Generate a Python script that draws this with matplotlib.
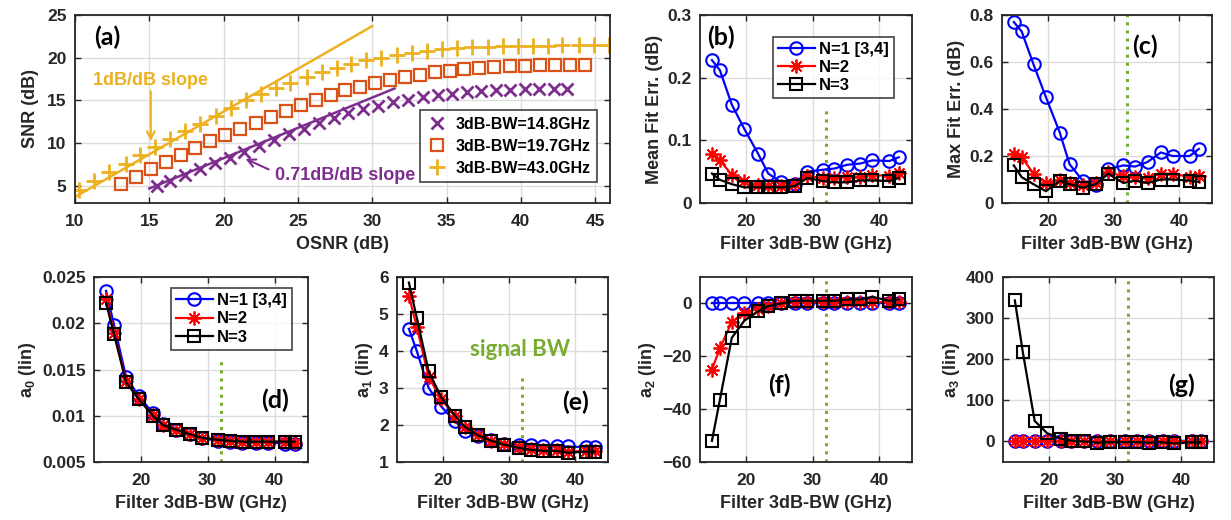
import numpy as np
import matplotlib
matplotlib.use('Agg')
import matplotlib.pyplot as plt

plt.rcParams['font.family'] = ['Liberation Sans', 'DejaVu Sans']
plt.rcParams['font.weight'] = 'bold'
plt.rcParams['axes.labelweight'] = 'bold'
plt.rcParams['mathtext.fontset'] = 'custom'
plt.rcParams['mathtext.rm'] = 'Liberation Sans:bold'
plt.rcParams['mathtext.it'] = 'Liberation Sans:bold'
plt.rcParams['mathtext.bf'] = 'Liberation Sans:bold'

# ---- panel (a): SNR vs OSNR ----
osnr_148 = [15.5, 16.4, 17.4, 18.4, 19.4, 20.4, 21.4, 22.4, 23.4, 24.4, 25.4,
            26.4, 27.4, 28.4, 29.4, 30.4, 31.4, 32.4, 33.4, 34.4, 35.4, 36.4,
            37.3, 38.3, 39.3, 40.3, 41.2, 42.2, 43.1]
snr_148 = [5.0, 5.6, 6.3, 7.0, 7.7, 8.3, 9.0, 9.7, 10.4, 11.1, 11.7,
           12.4, 13.0, 13.5, 14.0, 14.4, 14.8, 15.1, 15.4, 15.6, 15.8, 16.0,
           16.1, 16.2, 16.25, 16.3, 16.3, 16.35, 16.35]
osnr_197 = [13.1, 14.1, 15.1, 16.1, 17.1, 18.1, 19.1, 20.1, 21.1, 22.2, 23.2,
            24.2, 25.2, 26.2, 27.2, 28.2, 29.2, 30.2, 31.2, 32.2, 33.2, 34.2,
            35.2, 36.2, 37.2, 38.2, 39.3, 40.3, 41.3, 42.3, 43.3, 44.3]
snr_197 = [5.2, 6.1, 7.0, 7.8, 8.6, 9.4, 10.2, 11.0, 11.7, 12.4, 13.1,
           13.8, 14.5, 15.1, 15.6, 16.2, 16.6, 17.0, 17.4, 17.7, 18.0, 18.3,
           18.5, 18.7, 18.8, 18.9, 19.0, 19.05, 19.1, 19.1, 19.15, 19.15]
osnr_430 = [10.3, 11.3, 12.3, 13.4, 14.4, 15.4, 16.4, 17.4, 18.4, 19.5, 20.5,
            21.5, 22.5, 23.5, 24.5, 25.6, 26.6, 27.6, 28.6, 29.6, 30.6, 31.7,
            32.7, 33.7, 34.7, 35.7, 36.7, 37.8, 38.8, 39.8, 40.8, 41.8, 42.8,
            43.9, 44.9, 45.9]
snr_430 = [4.5, 5.6, 6.6, 7.6, 8.6, 9.6, 10.5, 11.4, 12.3, 13.2, 14.1,
           15.0, 15.8, 16.5, 17.1, 17.7, 18.3, 18.8, 19.3, 19.7, 20.0, 20.3,
           20.6, 20.8, 21.0, 21.1, 21.2, 21.3, 21.35, 21.4, 21.4, 21.4, 21.45,
           21.45, 21.45, 21.45]
slope1_x = [10, 30]
slope1_y = [3.7, 23.7]
slope071_x = [15, 31.5]
slope071_y = [4.7, 16.4]
legend_a = ['3dB-BW=14.8GHz', '3dB-BW=19.7GHz', '3dB-BW=43.0GHz']

# ---- panels (b)-(g): vs filter 3dB bandwidth ----
bw = [14.8, 16.0, 17.8, 19.7, 21.8, 23.3, 25.3, 27.3, 29.2, 31.5,
      33.3, 35.2, 37.2, 39.0, 41.6, 43.0]
sig_bw = 32
names = ['N=1 [3,4]', 'N=2', 'N=3']

mean_err = [
    [0.228, 0.212, 0.157, 0.118, 0.078, 0.047, 0.033, 0.031, 0.050, 0.053,
     0.055, 0.061, 0.063, 0.068, 0.067, 0.073],
    [0.078, 0.068, 0.045, 0.035, 0.028, 0.027, 0.027, 0.030, 0.043, 0.040,
     0.040, 0.042, 0.042, 0.045, 0.043, 0.048],
    [0.047, 0.037, 0.030, 0.025, 0.025, 0.025, 0.025, 0.027, 0.040, 0.035,
     0.033, 0.033, 0.036, 0.036, 0.035, 0.040],
]
max_err = [
    [0.77, 0.73, 0.59, 0.45, 0.30, 0.165, 0.095, 0.075, 0.145, 0.16,
     0.155, 0.175, 0.215, 0.20, 0.20, 0.23],
    [0.21, 0.195, 0.125, 0.085, 0.10, 0.085, 0.075, 0.085, 0.13, 0.115,
     0.11, 0.105, 0.125, 0.125, 0.11, 0.115],
    [0.16, 0.11, 0.08, 0.05, 0.095, 0.08, 0.065, 0.08, 0.125, 0.085,
     0.095, 0.085, 0.10, 0.10, 0.095, 0.09],
]
a0 = [
    [0.0235, 0.0198, 0.0142, 0.0121, 0.0103, 0.0091, 0.0085, 0.0080, 0.0076,
     0.0073, 0.0072, 0.0071, 0.0071, 0.0071, 0.0070, 0.0070],
    [0.0226, 0.0190, 0.0138, 0.0118, 0.0101, 0.0090, 0.0085, 0.0080, 0.0076,
     0.0074, 0.0073, 0.0072, 0.0072, 0.0072, 0.0072, 0.0071],
    [0.0222, 0.0188, 0.0136, 0.0118, 0.0100, 0.0090, 0.0085, 0.0080, 0.0076,
     0.0074, 0.0073, 0.0072, 0.0072, 0.0072, 0.0072, 0.0072],
]
a1 = [
    [4.6, 4.0, 3.0, 2.5, 2.1, 1.85, 1.7, 1.6, 1.5, 1.45, 1.45, 1.43, 1.42,
     1.42, 1.4, 1.4],
    [5.5, 4.65, 3.3, 2.7, 2.25, 1.95, 1.72, 1.58, 1.48, 1.4, 1.35, 1.33,
     1.32, 1.28, 1.3, 1.3],
    [5.85, 4.9, 3.45, 2.75, 2.25, 1.95, 1.72, 1.57, 1.47, 1.38, 1.33, 1.3,
     1.3, 1.25, 1.28, 1.28],
]
a2 = [
    [0] * 16,
    [-25, -17, -7, -3.5, -2, -1, 0, 0.5, 0.5, 0.5, 0.5, 0.5, 0.5, 0.5, 0.5,
     0.5],
    [-52, -36.5, -13, -6.5, -3, -1, 0, 1, 1, 1, 1, 1.5, 1.5, 2.5, 1, 1.5],
]
a3 = [
    [0] * 16,
    [0] * 16,
    [343, 218, 50, 20, 7, 2, 0, -3, -2, -2, -2, -3, -2, -5, -2, -2],
]

TXT = '#262626'
GREEN = '#77AC30'
C_PUR, C_ORA, C_YEL = '#7E2F8E', '#D95319', '#EDB120'
TAGFONT = ['Lato', 'DejaVu Sans']


def style(ax):
    ax.grid(True, color='#dcdcdc', lw=1.0)
    ax.set_axisbelow(True)
    ax.tick_params(direction='in', top=True, right=True, length=4,
                   width=1.0, labelsize=12.5, colors=TXT)
    ax.tick_params(axis='x', pad=8)
    ax.tick_params(axis='y', pad=6)
    for lab in ax.get_xticklabels() + ax.get_yticklabels():
        lab.set_fontweight('bold')
    for s in ax.spines.values():
        s.set_linewidth(1.3)
        s.set_color(TXT)


def boxed_legend(leg):
    leg.get_frame().set_edgecolor(TXT)
    leg.get_frame().set_linewidth(1.3)
    for t in leg.get_texts():
        t.set_fontweight('bold')


def fit_panel(ax, series, ylim, yticks, ylabel, vtop, tag, tagpos,
              legend_pos=None):
    styles = [dict(color='b', marker='o', ms=9, mfc='none', mew=1.5),
              dict(color='r', marker=(8, 2, 0), ms=10, mew=1.3),
              dict(color='k', marker='s', ms=8.5, mfc='none', mew=1.5)]
    ax.vlines(sig_bw, ylim[0], vtop, colors=GREEN, linestyles=':', lw=2.2)
    for ys, st, nm in zip(series, styles, names):
        ax.plot(bw, ys, lw=1.6, label=nm, **st)
    ax.set_xlim(13, 45)
    ax.set_ylim(*ylim)
    ax.set_xticks([20, 30, 40])
    ax.set_yticks(yticks)
    ax.set_xlabel('Filter 3dB-BW (GHz)', fontsize=13, color=TXT, labelpad=5)
    ax.set_ylabel(ylabel, fontsize=13, color=TXT, labelpad=3)
    ax.text(tagpos[0], tagpos[1], tag, fontsize=18, fontweight='bold',
            family=TAGFONT, ha='center', va='center')
    style(ax)
    if legend_pos is not None:
        leg = ax.legend(loc='upper left', bbox_to_anchor=legend_pos,
                        fontsize=12, frameon=True, fancybox=False,
                        handlelength=2.2, handletextpad=0.25,
                        borderpad=0.3, labelspacing=0.2, borderaxespad=0)
        boxed_legend(leg)


fig = plt.figure(figsize=(12.31, 5.2), dpi=100)
W, H = 1231, 520


def add_ax(x0, x1, y0, y1):
    return fig.add_axes([x0 / W, 1 - y1 / H, (x1 - x0) / W, (y1 - y0) / H])


# panel (a)
ax = add_ax(75, 610, 15, 203)
ax.plot(slope1_x, slope1_y, color=C_YEL, lw=1.8)
ax.plot(slope071_x, slope071_y, color=C_PUR, lw=1.8)
ax.plot(osnr_148, snr_148, ls='none', marker='x', ms=9, mew=2,
        color=C_PUR, label=legend_a[0])
ax.plot(osnr_197, snr_197, ls='none', marker='s', ms=9, mew=1.6,
        mfc='none', color=C_ORA, label=legend_a[1])
ax.plot(osnr_430, snr_430, ls='none', marker='+', ms=12, mew=2,
        color=C_YEL, label=legend_a[2])
ax.set_xlim(10, 46)
ax.set_ylim(3, 25)
ax.set_xticks(np.arange(10, 46, 5))
ax.set_yticks(np.arange(5, 26, 5))
ax.set_xlabel('OSNR (dB)', fontsize=13, color=TXT, labelpad=5)
ax.set_ylabel('SNR (dB)', fontsize=13, color=TXT, labelpad=6)
ax.text(12.2, 22.4, '(a)', fontsize=18, fontweight='bold',
        family=TAGFONT, ha='center', va='center')
ax.annotate('', xy=(15.1, 9.9), xytext=(15.1, 16.4),
            arrowprops=dict(arrowstyle='->', color=C_YEL, lw=1.5,
                            mutation_scale=14))
ax.text(15.1, 17.3, '1dB/dB slope', color=C_YEL, fontsize=13,
        fontweight='bold', ha='center', va='center')
ax.annotate('', xy=(21.3, 8.3), xytext=(23.2, 6.8),
            arrowprops=dict(arrowstyle='->', color=C_PUR, lw=1.5,
                            mutation_scale=14))
ax.text(28.2, 6.2, '0.71dB/dB slope', color=C_PUR, fontsize=13,
        fontweight='bold', ha='center', va='center')
style(ax)
leg = ax.legend(loc='lower right', bbox_to_anchor=(0.975, 0.11),
                fontsize=11.5, frameon=True, fancybox=False,
                handlelength=1.3, handletextpad=0.5, borderpad=0.4,
                labelspacing=0.45, borderaxespad=0)
boxed_legend(leg)

# panel (b)
ax = add_ax(700, 912, 15, 203)
fit_panel(ax, mean_err, (0, 0.3), [0, 0.1, 0.2, 0.3], 'Mean Fit Err. (dB)',
          0.15, '(b)', (16.2, 0.265), legend_pos=(0.345, 0.885))
ax.set_yticklabels(['0', '0.1', '0.2', '0.3'])

# panel (c)
ax = add_ax(1002, 1212, 15, 203)
fit_panel(ax, max_err, (0, 0.8), [0, 0.2, 0.4, 0.6, 0.8], 'Max Fit Err. (dB)',
          0.8, '(c)', (34.8, 0.667))
ax.set_yticklabels(['0', '0.2', '0.4', '0.6', '0.8'])

# panel (d)
ax = add_ax(94, 308, 277, 462)
fit_panel(ax, a0, (0.005, 0.025), [0.005, 0.01, 0.015, 0.02, 0.025],
          r'a$_0$ (lin)', 0.0164, '(d)', (40, 0.0117),
          legend_pos=(0.36, 0.94))
ax.set_yticklabels(['0.005', '0.01', '0.015', '0.02', '0.025'])

# panel (e)
ax = add_ax(397, 608, 277, 462)
fit_panel(ax, a1, (1, 6), [1, 2, 3, 4, 5, 6], r'a$_1$ (lin)', 3.3, '(e)',
          (40, 2.6))
ax.text(31.7, 4.05, 'signal BW', color=GREEN, fontsize=16,
        fontweight='bold', family=TAGFONT, ha='center', va='center')

# panel (f)
ax = add_ax(700, 912, 277, 462)
fit_panel(ax, a2, (-60, 10), [-60, -40, -20, 0], r'a$_2$ (lin)', 10, '(f)',
          (25, -31))

# panel (g)
ax = add_ax(1003, 1214, 277, 462)
fit_panel(ax, a3, (-50, 400), [0, 100, 200, 300, 400], r'a$_3$ (lin)', 400,
          '(g)', (40, 136))

fig.savefig('out.png', dpi=100)
